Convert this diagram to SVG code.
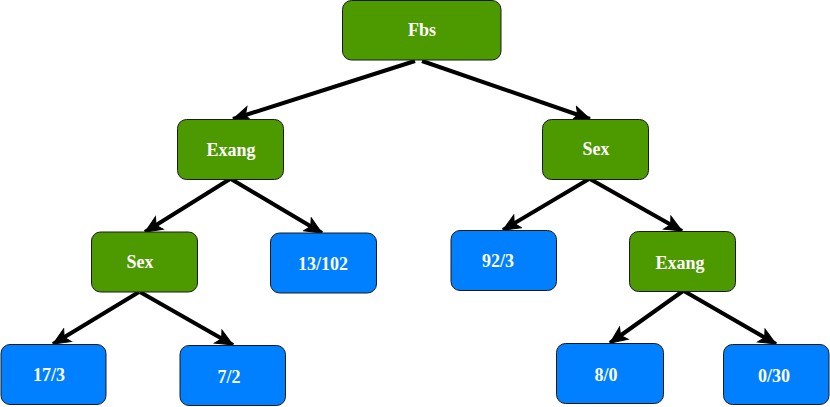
<svg xmlns="http://www.w3.org/2000/svg" width="830" height="407" viewBox="0 0 830 407">
<style>
.g{fill:#4D9900;stroke:#1a1a1a;stroke-width:1}
.b{fill:#007FFF;stroke:#1a1a1a;stroke-width:1}
text{font-family:"Liberation Serif","Times New Roman",serif;font-weight:bold;font-size:18px;fill:#fff;text-anchor:middle}
.e{stroke:#000;stroke-width:4;fill:none;marker-end:url(#arr)}
</style>
<defs>
<marker id="arr" markerUnits="userSpaceOnUse" markerWidth="19" markerHeight="17" refX="18" refY="8.5" orient="auto" viewBox="0 0 19 17">
<path d="M1,1 L18,8.5 L1,16 L5,8.5 Z" fill="#000" stroke="#000" stroke-width="1"/>
</marker>
</defs>
<g id="connectors">
<path class="e" d="M415,61 L233,119"/>
<path class="e" d="M422,61 L590,119"/>
<path class="e" d="M230,179 L145,232"/>
<path class="e" d="M231,179 L322,233"/>
<path class="e" d="M139,292 L53,344"/>
<path class="e" d="M140,292 L233,345"/>
<path class="e" d="M589,179 L503,230"/>
<path class="e" d="M590,179 L682,231"/>
<path class="e" d="M683,291 L610,343"/>
<path class="e" d="M684,291 L776,344"/>
</g>
<g id="n-fbs"><rect class="g" x="342.5" y="0.5" width="158.5" height="59.5" rx="9"/><text x="422" y="36">Fbs</text></g>
<g id="n-exang1"><rect class="g" x="177.5" y="119.5" width="106" height="60" rx="9"/><text x="231" y="156">Exang</text></g>
<g id="n-sex1"><rect class="g" x="542.5" y="119.5" width="106" height="60" rx="9"/><text x="596" y="154.5">Sex</text></g>
<g id="n-sex2"><rect class="g" x="91.5" y="232" width="106" height="60" rx="9"/><text x="140" y="267.5">Sex</text></g>
<g id="n-13102"><rect class="b" x="270.5" y="233" width="106" height="60" rx="9"/><text x="323" y="269.5">13/102</text></g>
<g id="n-923"><rect class="b" x="451" y="230.5" width="105.5" height="60" rx="9"/><text x="498" y="266.5">92/3</text></g>
<g id="n-exang2"><rect class="g" x="629.5" y="231.5" width="106" height="60" rx="9"/><text x="680" y="268.5">Exang</text></g>
<g id="n-173"><rect class="b" x="1" y="344.5" width="105" height="60" rx="9"/><text x="49" y="380.5">17/3</text></g>
<g id="n-72"><rect class="b" x="180" y="345.5" width="105.5" height="60" rx="9"/><text x="229" y="382.5">7/2</text></g>
<g id="n-80"><rect class="b" x="556.5" y="343.5" width="107" height="60" rx="9"/><text x="606" y="380.5">8/0</text></g>
<g id="n-030"><rect class="b" x="723.5" y="344.5" width="105.5" height="60" rx="9"/><text x="774" y="381.5">0/30</text></g>
</svg>
